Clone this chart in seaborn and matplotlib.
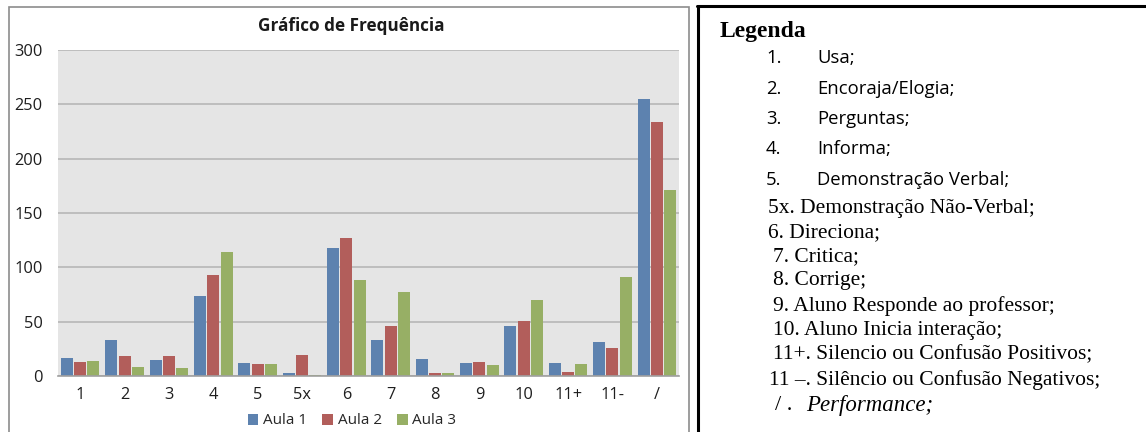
import matplotlib
matplotlib.use("Agg")
import matplotlib.pyplot as plt
from matplotlib.lines import Line2D
from matplotlib.patches import Rectangle
import seaborn as sns
import pandas as pd

# Interaction categories (Flanders-style codes) and counts per lesson
categories = ["1", "2", "3", "4", "5", "5x", "6", "7", "8", "9", "10", "11+", "11-", "/"]
aula1 = [17, 33, 15, 74, 12, 3, 118, 33, 16, 12, 46, 12, 31, 255]
aula2 = [13, 18, 18, 93, 11, 19, 127, 46, 3, 13, 51, 4, 26, 234]
aula3 = [14, 8, 7, 114, 11, 1, 88, 77, 3, 10, 70, 11, 91, 171]
series_names = ["Aula 1", "Aula 2", "Aula 3"]
y_ticks = [0, 50, 100, 150, 200, 250, 300]

legend_sans = [("1.", "Usa;"), ("2.", "Encoraja/Elogia;"), ("3.", "Perguntas;"),
               ("4.", "Informa;"), ("5.", "Demonstração Verbal;")]
legend_serif = ["5x. Demonstração Não-Verbal;", "6. Direciona;", "7. Critica;",
                "8. Corrige;", "9. Aluno Responde ao professor;",
                "10. Aluno Inicia interação;", "11+. Silencio ou Confusão Positivos;",
                "11 –. Silêncio ou Confusão Negativos;"]

df = pd.DataFrame({
    "cat": categories * 3,
    "val": aula1 + aula2 + aula3,
    "serie": [s for s in series_names for _ in categories],
})

sns.set_theme(style="white")
plt.rcParams["font.family"] = ["Open Sans", "DejaVu Sans"]

W, H = 1146, 432
fig = plt.figure(figsize=(W / 100, H / 100), dpi=100)


def fx(px):
    return px / W


def fy(py):
    return 1 - py / H


ax = fig.add_axes([fx(58), fy(376), fx(679) - fx(58), fy(50) - fy(376)])
ax.set_facecolor("#e5e5e5")

palette = ["#4f81bd", "#c0504d", "#9bbb59"]
sns.barplot(data=df, x="cat", y="val", hue="serie", hue_order=series_names,
            palette=palette, width=0.9, gap=0.1, linewidth=0, ax=ax,
            order=categories)

ax.set_ylim(0, 300)
ax.set_yticks(y_ticks)
ax.set_xlim(-0.5, len(categories) - 0.5)
ax.yaxis.grid(True, color="#bdbdbd", linewidth=1.4)
ax.set_axisbelow(True)
for s in ["top", "right", "left"]:
    ax.spines[s].set_visible(False)
ax.spines["bottom"].set_color("#a0a0a0")
ax.spines["bottom"].set_linewidth(1.2)
ax.tick_params(axis="both", length=0, labelsize=11.8, colors="#1e1e1e")
ax.tick_params(axis="y", pad=11)
ax.tick_params(axis="x", pad=8)
ax.set_xlabel("")
ax.set_ylabel("")

handles, labels = ax.get_legend_handles_labels()
ax.legend(handles, labels, loc="center", bbox_to_anchor=(fx(352), fy(421)),
          bbox_transform=fig.transFigure, ncol=3, frameon=False,
          handlelength=0.7, handleheight=0.7, handletextpad=0.3,
          columnspacing=1.0, fontsize=11, borderpad=0)

fig.text(fx(351), fy(26), "Gráfico de Frequência", ha="center", va="center",
         fontsize=12.3, fontweight="bold", color="#1a1a1a")

# chart frame
fig.patches.append(Rectangle((fx(9), fy(440)), fx(689) - fx(9), fy(7) - fy(440),
                             transform=fig.transFigure, fill=False,
                             edgecolor="#8c8c8c", linewidth=1.2))

# legend panel frame
fig.add_artist(Line2D([fx(698), fx(698)], [fy(6), fy(440)], color="black",
                      linewidth=2.2, transform=fig.transFigure))
fig.add_artist(Line2D([fx(697), fx(1146)], [fy(6), fy(6)], color="black",
                      linewidth=2.2, transform=fig.transFigure))

serif = ["Liberation Serif", "DejaVu Serif"]
fig.text(fx(720), fy(32), "Legenda", ha="left", va="center", fontsize=17,
         fontweight="bold", family=serif, color="black")

sans_y = [58, 89, 119, 149, 180]
for (num, txt), yy in zip(legend_sans, sans_y):
    fig.text(fx(766), fy(yy), num, ha="left", va="center", fontsize=13.3, color="black")
    fig.text(fx(817), fy(yy), txt, ha="left", va="center", fontsize=13.3, color="black")

serif_y = [209, 233, 257, 281, 306, 330, 355, 380]
serif_x = [768, 768, 773, 773, 773, 773, 773, 769]
for txt, xx, yy in zip(legend_serif, serif_x, serif_y):
    fig.text(fx(xx), fy(yy), txt, ha="left", va="center", fontsize=15.5,
             family=serif, color="black")

fig.text(fx(775), fy(406), "/ .", ha="left", va="center", fontsize=16,
         family=serif, color="black")
fig.text(fx(806), fy(406), "Performance;", ha="left", va="center", fontsize=16.5,
         family=serif, style="italic", color="black")

fig.savefig("out.png", dpi=100)
